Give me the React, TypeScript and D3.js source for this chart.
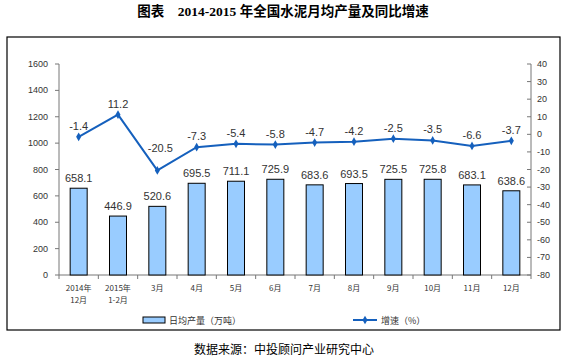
import React from "react";
import * as d3 from "d3";

const categories = ["2014年|12月", "2015年|1-2月", "3月", "4月", "5月", "6月", "7月", "8月", "9月", "10月", "11月", "12月"];
const output = [658.1, 446.9, 520.6, 695.5, 711.1, 725.9, 683.6, 693.5, 725.5, 725.8, 683.1, 638.6];
const growth = [-1.4, 11.2, -20.5, -7.3, -5.4, -5.8, -4.7, -4.2, -2.5, -3.5, -6.6, -3.7];
const leftTicks = [0, 200, 400, 600, 800, 1000, 1200, 1400, 1600];
const rightTicks = [40, 30, 20, 10, 0, -10, -20, -30, -40, -50, -60, -70, -80];

export default function App() {
  const W = 569, H = 359;
  const left = 59, right = 531, top = 64, bottom = 275;
  const x = d3.scaleBand<string>().domain(categories).range([left, right]).paddingInner(0);
  const yL = d3.scaleLinear().domain([0, 1600]).range([bottom, top]);
  const yR = d3.scaleLinear().domain([-80, 40]).range([bottom, top]);
  const bw = 17;
  const lineColor = "#1560BD";
  const line = d3.line<number>().x((_, i) => x(categories[i])! + x.bandwidth() / 2).y((d) => yR(d));
  const numFont = "Arial, 'Liberation Sans', sans-serif";
  const cjk = "'Noto Sans CJK SC', sans-serif";
  const diamond = d3.symbol().type(d3.symbolDiamond).size(22)()!;

  const labelOffset = (i: number) => {
    const v = growth[i];
    const prev = i > 0 ? growth[i - 1] : v;
    const next = i < growth.length - 1 ? growth[i + 1] : v;
    return v < prev - 8 && v < next - 8 ? 18 : 7;
  };

  return (
    <svg width={W} height={H} style={{ position: "absolute", left: 0, top: 0, background: "#fff" }}>
      <text x={283} y={16} textAnchor="middle" fontSize={13.5} fontWeight="bold" fontFamily={"'Liberation Serif', 'Noto Sans CJK SC', serif"} fill="#000">
        图表{"\u00a0\u00a0\u00a0\u00a0"}2014-2015 年全国水泥月均产量及同比增速
      </text>
      <rect x={7} y={37} width={553} height={293} fill="#fff" stroke="#000" strokeWidth={1.2} />
      {/* left axis */}
      <line x1={left} x2={left} y1={top} y2={bottom} stroke="#777" />
      {leftTicks.map((t) => (
        <g key={"l" + t}>
          <line x1={left - 4} x2={left} y1={yL(t)} y2={yL(t)} stroke="#777" />
          <text x={48} y={yL(t) + 3} textAnchor="end" fontSize={9} fontFamily={numFont} fill="#333">{t}</text>
        </g>
      ))}
      {/* right axis */}
      <line x1={right} x2={right} y1={top} y2={bottom} stroke="#777" />
      {rightTicks.map((t) => (
        <g key={"r" + t}>
          <line x1={right - 4} x2={right} y1={yR(t)} y2={yR(t)} stroke="#777" />
          <text x={537} y={yR(t) + 3} textAnchor="start" fontSize={9} fontFamily={numFont} fill="#333">{t}</text>
        </g>
      ))}
      {/* x axis */}
      <line x1={left} x2={right} y1={bottom} y2={bottom} stroke="#777" />
      {categories.map((c, i) => (
        <line key={"xt" + i} x1={x(c)!} x2={x(c)!} y1={bottom} y2={bottom + 4} stroke="#777" />
      ))}
      <line x1={right} x2={right} y1={bottom} y2={bottom + 4} stroke="#777" />
      {categories.map((c) => {
        const parts = c.split("|");
        const cx = x(c)! + x.bandwidth() / 2;
        return (
          <text key={"xl" + c} x={cx} y={291} textAnchor="middle" fontSize={8} fontFamily={cjk} fill="#333">
            {parts.map((p, j) => (
              <tspan key={j} x={cx} dy={j === 0 ? 0 : 12}>{p}</tspan>
            ))}
          </text>
        );
      })}
      {/* bars */}
      {output.map((v, i) => {
        const cx = x(categories[i])! + x.bandwidth() / 2;
        return (
          <g key={"b" + i}>
            <rect x={cx - bw / 2} y={yL(v)} width={bw} height={bottom - yL(v)} fill="#99CCFF" stroke="#000" strokeWidth={1} />
            <text x={cx} y={yL(v) - 6} textAnchor="middle" fontSize={11} fontFamily={numFont} fill="#333">{v.toFixed(1)}</text>
          </g>
        );
      })}
      {/* line */}
      <path d={line(growth)!} fill="none" stroke={lineColor} strokeWidth={2} />
      {growth.map((v, i) => {
        const cx = x(categories[i])! + x.bandwidth() / 2;
        return (
          <g key={"p" + i}>
            <path d={diamond} transform={`translate(${cx},${yR(v)})`} fill={lineColor} />
            <text x={cx + (labelOffset(i) > 10 ? 3 : 0)} y={yR(v) - labelOffset(i)} textAnchor="middle" fontSize={11} fontFamily={numFont} fill="#333">{v.toFixed(1)}</text>
          </g>
        );
      })}
      {/* legend */}
      <rect x={143} y={317} width={22} height={6} fill="#99CCFF" stroke="#000" />
      <text x={169} y={324} fontSize={9} fontFamily={cjk} fill="#333">日均产量（万吨）</text>
      <line x1={353} x2={377} y1={320} y2={320} stroke={lineColor} strokeWidth={2} />
      <path d={diamond} transform="translate(365,320)" fill={lineColor} />
      <text x={381} y={324} fontSize={9} fontFamily={cjk} fill="#333">增速（%）</text>
      <text x={284} y={354} textAnchor="middle" fontSize={12} fontFamily={cjk} fill="#000">数据来源：中投顾问产业研究中心</text>
    </svg>
  );
}
